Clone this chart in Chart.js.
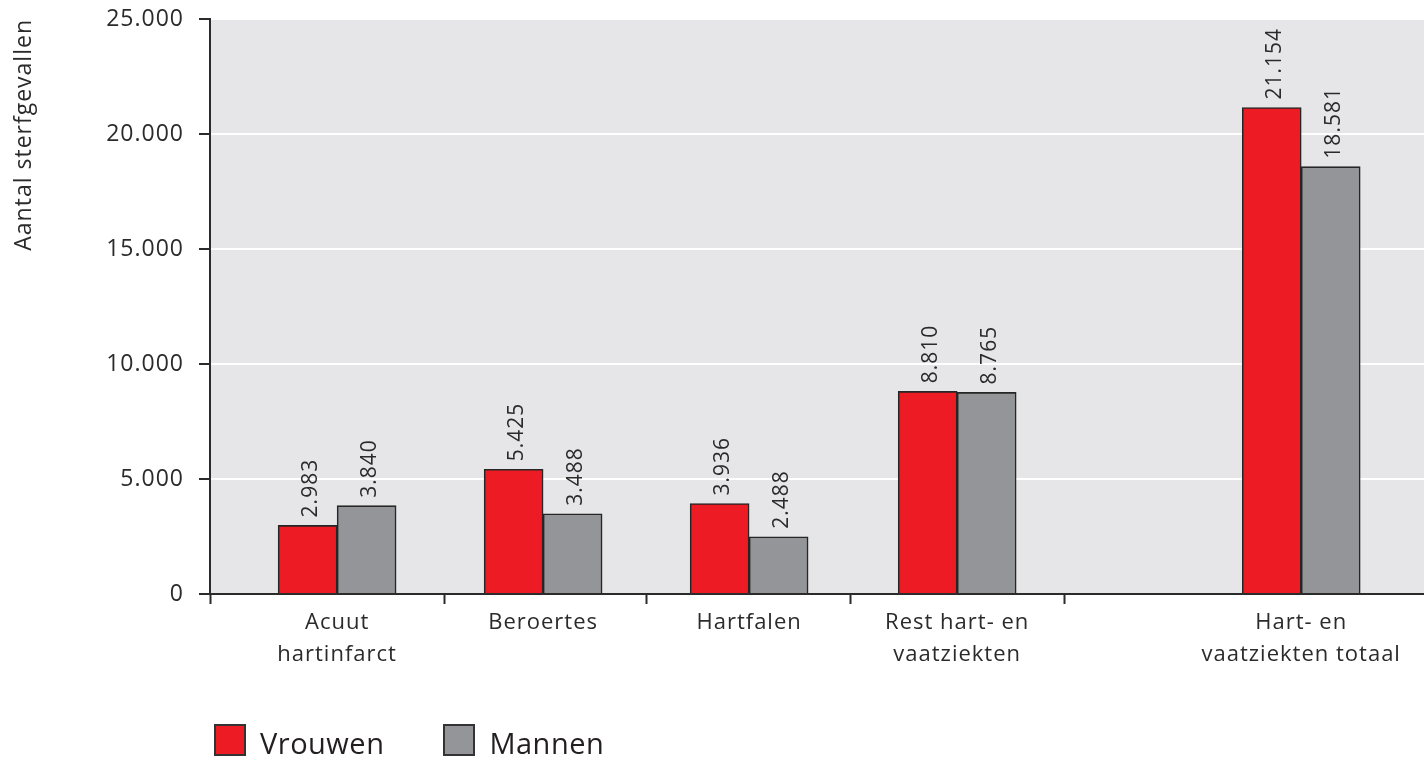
<!DOCTYPE html>
<html>
<head>
<meta charset="utf-8">
<title>Sterfgevallen hart- en vaatziekten</title>
<script src="https://cdn.jsdelivr.net/npm/chart.js@4/dist/chart.umd.min.js"></script>
<style>
  body { margin: 0; background: #fff; }
  #wrap { position: relative; width: 1424px; height: 759px; font-family: "Open Sans", sans-serif; color: #231f20; }
  #legend { position: absolute; left: 214px; top: 720px; display: flex; align-items: center; }
  .item { display: flex; align-items: center; margin-right: 59px; font-size: 29px; letter-spacing: 0.5px; }
  .item span { position: relative; top: 3px; }
  .box { width: 28px; height: 28px; border: 2px solid #333; margin-right: 14px; }
</style>
</head>
<body>
<div id="wrap">
  <canvas id="chart" width="1424" height="759"></canvas>
  <div id="legend"></div>
</div>
<script>
// data
const categories = [
  ["Acuut", "hartinfarct"],
  ["Beroertes"],
  ["Hartfalen"],
  ["Rest hart- en", "vaatziekten"],
  ["Hart- en", "vaatziekten totaal"]
];
const vrouwen = [2983, 5425, 3936, 8810, 21154];
const mannen = [3840, 3488, 2488, 8765, 18581];
const yTicks = [0, 5000, 10000, 15000, 20000, 25000];

// layout of the category slots on the x axis (the last group stands apart)
const slots = [0, 1, 2, 3.01, 4.68];
const xMin = -0.617;
const xMax = 5.276;
const boundaries = [xMin, 0.52, 1.5, 2.49, 3.53];
const xTickValues = [...boundaries, ...slots].sort((a, b) => a - b);

const RED = "#ed1c24";
const GREY = "#939598";
const INK = "#2b2b2b";
const FONT = "Open Sans";

function fmt(v) {
  return String(v).replace(/\B(?=(\d{3})+(?!\d))/g, ".");
}

/* grey plot background */
const plotBackground = {
  id: "plotBackground",
  beforeDraw(chart) {
    const { ctx, chartArea } = chart;
    ctx.save();
    ctx.fillStyle = "#e6e6e8";
    ctx.fillRect(chartArea.left, chartArea.top, chartArea.right - chartArea.left, chartArea.bottom - chartArea.top);
    ctx.restore();
  }
};

/* slightly wider tracking, like the original typesetting */
const tracking = {
  id: "tracking",
  beforeUpdate(chart) { chart.ctx.letterSpacing = "1px"; },
  beforeDraw(chart) { chart.ctx.letterSpacing = "1px"; }
};

/* rotated values above each bar */
const valueLabels = {
  id: "valueLabels",
  afterDatasetsDraw(chart) {
    const c = chart.ctx;
    c.save();
    c.font = "21px \"" + FONT + "\"";
    c.fillStyle = INK;
    c.textAlign = "left";
    c.textBaseline = "middle";
    chart.data.datasets.forEach((ds, di) => {
      chart.getDatasetMeta(di).data.forEach((bar, i) => {
        c.save();
        c.translate(bar.x + 3, bar.y - 8);
        c.rotate(-Math.PI / 2);
        c.fillText(fmt(ds.data[i].y), 0, 0);
        c.restore();
      });
    });
    c.restore();
  }
};

const chart = new Chart(document.getElementById("chart").getContext("2d"), {
  type: "bar",
  data: {
    datasets: [
      {
        label: "Vrouwen",
        data: vrouwen.map((v, i) => ({ x: slots[i], y: v })),
        backgroundColor: RED
      },
      {
        label: "Mannen",
        data: mannen.map((v, i) => ({ x: slots[i], y: v })),
        backgroundColor: GREY
      }
    ]
  },
  options: {
    responsive: false,
    animation: false,
    datasets: {
      bar: { barThickness: 59, borderColor: "#262626", borderWidth: 1.6 }
    },
    layout: { padding: { top: 19, bottom: 65, left: 0, right: 0 } },
    plugins: {
      legend: { display: false },
      tooltip: { enabled: false }
    },
    scales: {
      x: {
        type: "linear",
        offset: false,
        min: xMin,
        max: xMax,
        afterBuildTicks: (s) => { s.ticks = xTickValues.map((v) => ({ value: v })); },
        afterFit: (s) => { s.height = 100; },
        grid: {
          offset: false,
          drawOnChartArea: false,
          tickLength: 10,
          tickWidth: 2,
          color: "rgba(0,0,0,0)",
          tickColor: (c) => (c.tick && boundaries.includes(c.tick.value) ? INK : "rgba(0,0,0,0)")
        },
        border: { color: INK, width: 2 },
        ticks: {
          autoSkip: false,
          maxRotation: 0,
          minRotation: 0,
          padding: 3,
          color: INK,
          font: { family: FONT, size: 22, lineHeight: 1.45 },
          callback: (v) => {
            const i = slots.indexOf(v);
            return i < 0 ? "" : categories[i];
          }
        }
      },
      y: {
        min: 0,
        max: 25000,
        afterBuildTicks: (s) => { s.ticks = yTicks.map((v) => ({ value: v })); },
        afterFit: (s) => {
          s.width = 210;
          s.paddingTop = 0;
          s.paddingBottom = 0;
        },
        grid: { color: "#ffffff", lineWidth: 2, tickColor: INK, tickWidth: 2, tickLength: 11 },
        border: { color: INK, width: 2 },
        ticks: {
          padding: 15,
          color: INK,
          font: { family: FONT, size: 23 },
          callback: (v) => fmt(v)
        },
        title: {
          display: true,
          text: "Aantal sterfgevallen",
          align: "end",
          color: INK,
          font: { family: FONT, size: 23 },
          padding: { top: 11, bottom: 0 }
        }
      }
    }
  },
  plugins: [plotBackground, tracking, valueLabels]
});

/* legend as html, built from the datasets */
const legend = document.getElementById("legend");
chart.data.datasets.forEach((ds) => {
  const item = document.createElement("div");
  item.className = "item";
  const box = document.createElement("div");
  box.className = "box";
  box.style.background = ds.backgroundColor;
  const text = document.createElement("span");
  text.textContent = ds.label;
  item.appendChild(box);
  item.appendChild(text);
  legend.appendChild(item);
});
</script>
</body>
</html>
